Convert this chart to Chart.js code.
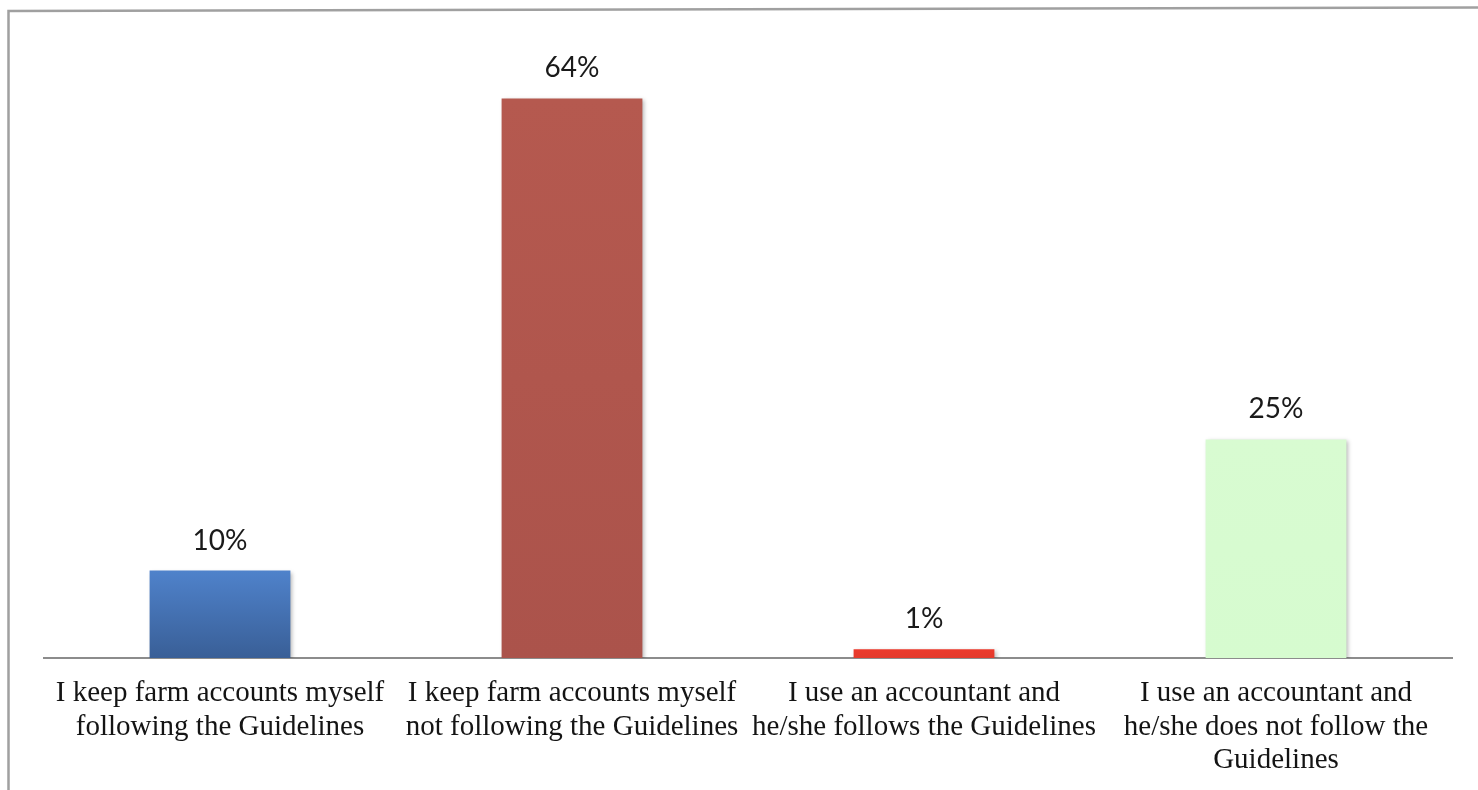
<!DOCTYPE html>
<html>
<head>
<meta charset="utf-8">
<script src="https://cdn.jsdelivr.net/npm/chart.js@4/dist/chart.umd.min.js"></script>
<style>
  html, body { margin: 0; padding: 0; background: #fff; }
  #wrap { position: relative; width: 1478px; height: 790px; }
</style>
</head>
<body>
<div id="wrap"><canvas id="c"></canvas></div>
<script>
// Survey responses: how farm accounts are kept
const categories = [
  ["I keep farm accounts myself", "following the Guidelines"],
  ["I keep farm accounts myself", "not following the Guidelines"],
  ["I use an accountant and", "he/she follows the Guidelines"],
  ["I use an accountant and", "he/she does not follow the", "Guidelines"]
];
const shares = [10, 64, 1, 25];
const barTopColors = ["#4f82cb", "#b5594f", "#ec3a2c", "#d8fbd1"];
const barBottomColors = ["#395f97", "#ab534b", "#e33a2c", "#d6fbcf"];

function barFill(ctx) {
  const chart = ctx.chart;
  const i = ctx.dataIndex;
  if (!chart.chartArea) return barTopColors[i];
  const y = chart.scales.y;
  const top = y.getPixelForValue(ctx.parsed ? ctx.parsed.y : shares[i]);
  const base = y.getPixelForValue(0);
  if (!isFinite(top) || top === base) return barTopColors[i];
  const g = chart.ctx.createLinearGradient(0, top, 0, base);
  g.addColorStop(0, barTopColors[i]);
  g.addColorStop(1, barBottomColors[i]);
  return g;
}

// Outer frame (left and top edges) behind the chart
const framePlugin = {
  id: 'frame',
  beforeDraw(chart) {
    const c = chart.ctx;
    c.save();
    c.strokeStyle = '#a0a0a0';
    c.lineWidth = 2.5;
    c.beginPath();
    c.moveTo(8.5, 790);
    c.lineTo(8.5, 11);
    c.lineTo(1478, 7.5);
    c.stroke();
    c.restore();
  }
};

// Soft drop shadow under the bars
const shadowPlugin = {
  id: 'barShadow',
  beforeDatasetsDraw(chart) {
    const c = chart.ctx;
    c.save();
    c.shadowColor = 'rgba(0,0,0,0.28)';
    c.shadowBlur = 4;
    c.shadowOffsetX = 2;
    c.shadowOffsetY = 2;
  },
  afterDatasetsDraw(chart) {
    chart.ctx.restore();
  }
};

// Percentage labels above each bar
const valueLabels = {
  id: 'valueLabels',
  afterDatasetsDraw(chart) {
    const c = chart.ctx;
    const meta = chart.getDatasetMeta(0);
    c.save();
    c.font = '28px Lato, "Open Sans", sans-serif';
    c.fillStyle = '#1a1a1a';
    c.textAlign = 'center';
    c.textBaseline = 'alphabetic';
    meta.data.forEach((bar, i) => {
      c.fillText(shares[i] + '%', bar.x, bar.y - 21);
    });
    c.restore();
  }
};

new Chart(document.getElementById('c'), {
  type: 'bar',
  data: {
    labels: categories,
    datasets: [{
      data: shares,
      backgroundColor: barFill,
      borderWidth: 0,
      categoryPercentage: 1.0,
      barPercentage: 0.4
    }]
  },
  options: {
    responsive: true,
    maintainAspectRatio: false,
    animation: false,
    events: [],
    layout: { padding: { left: 44, right: 26, top: 46, bottom: 0 } },
    plugins: {
      legend: { display: false },
      tooltip: { enabled: false },
      title: { display: false }
    },
    scales: {
      x: {
        grid: { display: false, drawTicks: false },
        border: { display: true, color: '#8c8c8c', width: 2 },
        ticks: {
          color: '#141414',
          padding: 19,
          maxRotation: 0,
          autoSkip: false,
          font: { family: '"Liberation Serif", "Times New Roman", serif', size: 29, lineHeight: 1.15 }
        },
        afterFit(scale) { scale.height = 132; }
      },
      y: {
        display: false,
        min: 0,
        max: 70,
        afterFit(scale) { scale.width = 0; }
      }
    }
  },
  plugins: [framePlugin, shadowPlugin, valueLabels]
});
</script>
</body>
</html>
